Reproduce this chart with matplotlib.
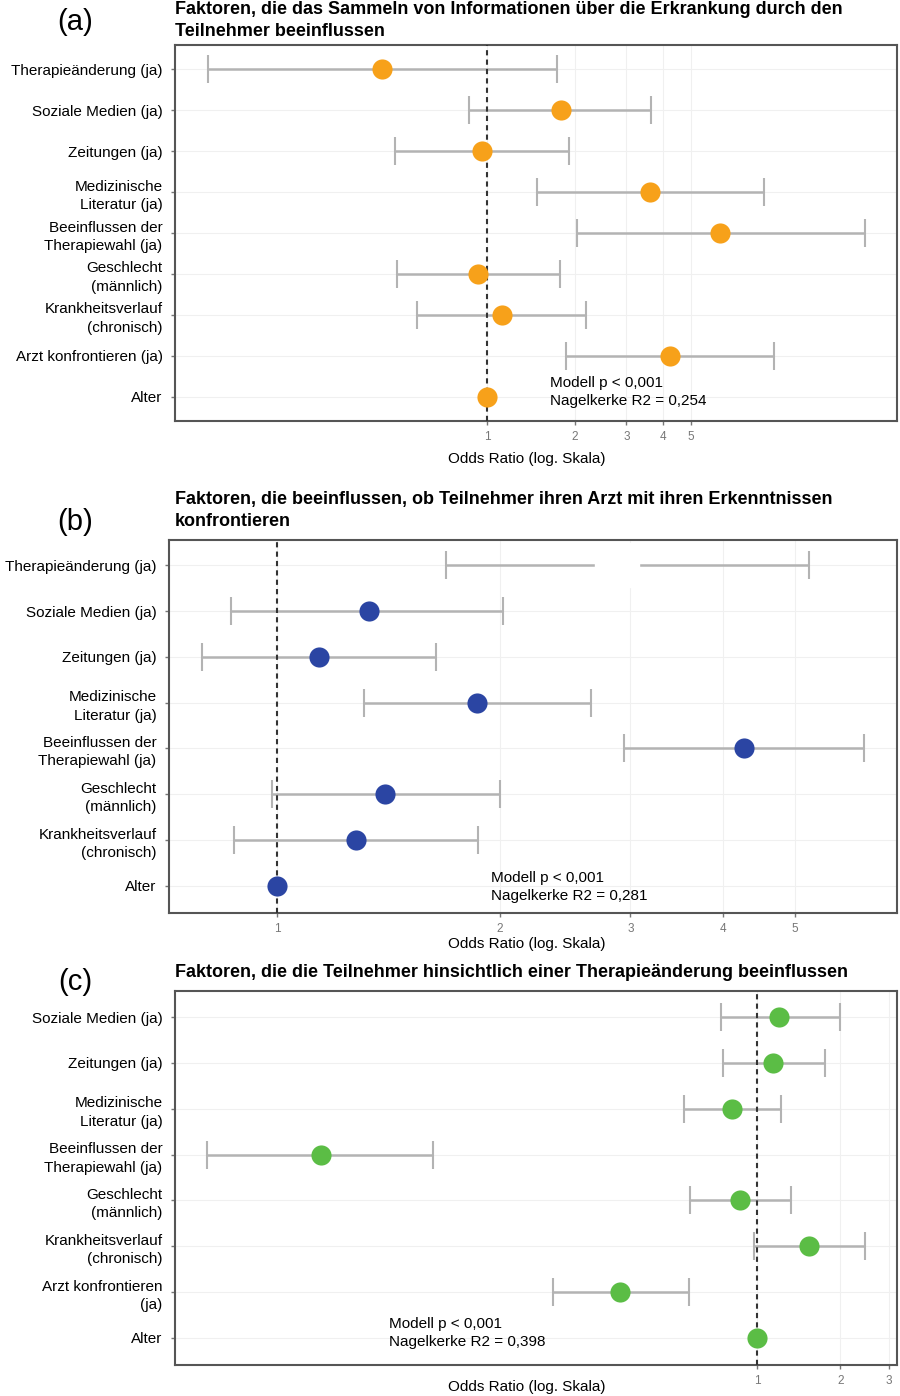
import matplotlib
matplotlib.use("Agg")
import matplotlib.pyplot as plt
import numpy as np

plt.rcParams['font.family'] = ['Liberation Sans', 'DejaVu Sans']

# Panel (a)
labels_a = ["Therapieänderung (ja)", "Soziale Medien (ja)", "Zeitungen (ja)",
            "Medizinische\nLiteratur (ja)", "Beeinflussen der\nTherapiewahl (ja)",
            "Geschlecht\n(männlich)", "Krankheitsverlauf\n(chronisch)",
            "Arzt konfrontieren (ja)", "Alter"]
or_a = [0.434, 1.79, 0.96, 3.61, 6.28, 0.93, 1.12, 4.24, 1.0]
lo_a = [0.110, 0.867, 0.484, 1.48, 2.03, 0.49, 0.575, 1.86, 0.995]
hi_a = [1.74, 3.64, 1.91, 8.89, 19.7, 1.78, 2.18, 9.6, 1.005]
ticks_a = [1, 2, 3, 4, 5]

# Panel (b)
labels_b = ["Therapieänderung (ja)", "Soziale Medien (ja)", "Zeitungen (ja)",
            "Medizinische\nLiteratur (ja)", "Beeinflussen der\nTherapiewahl (ja)",
            "Geschlecht\n(männlich)", "Krankheitsverlauf\n(chronisch)", "Alter"]
or_b = [2.88, 1.33, 1.14, 1.86, 4.27, 1.40, 1.28, 1.0]
lo_b = [1.69, 0.867, 0.792, 1.31, 2.94, 0.985, 0.875, 0.998]
hi_b = [5.22, 2.02, 1.64, 2.65, 6.2, 2.0, 1.87, 1.002]
ticks_b = [1, 2, 3, 4, 5]

# Panel (c)
labels_c = ["Soziale Medien (ja)", "Zeitungen (ja)", "Medizinische\nLiteratur (ja)",
            "Beeinflussen der\nTherapiewahl (ja)", "Geschlecht\n(männlich)",
            "Krankheitsverlauf\n(chronisch)", "Arzt konfrontieren\n(ja)", "Alter"]
or_c = [1.20, 1.14, 0.812, 0.0263, 0.868, 1.54, 0.319, 1.0]
lo_c = [0.741, 0.753, 0.544, 0.0102, 0.572, 0.975, 0.182, 0.995]
hi_c = [2.0, 1.76, 1.22, 0.067, 1.33, 2.46, 0.567, 1.005]
ticks_c = [1, 2, 3]

titles = ["Faktoren, die das Sammeln von Informationen über die Erkrankung durch den\nTeilnehmer beeinflussen",
          "Faktoren, die beeinflussen, ob Teilnehmer ihren Arzt mit ihren Erkenntnissen\nkonfrontieren",
          "Faktoren, die die Teilnehmer hinsichtlich einer Therapieänderung beeinflussen"]
stats = ["Modell p < 0,001\nNagelkerke R2 = 0,254",
         "Modell p < 0,001\nNagelkerke R2 = 0,281",
         "Modell p < 0,001\nNagelkerke R2 = 0,398"]

W, H = 900, 1396
fig = plt.figure(figsize=(W / 100, H / 100), dpi=100)


def px_axes(l, t, r, b):
    return fig.add_axes([l / W, 1 - b / H, (r - l) / W, (b - t) / H])


def forest(ax, labels, ors, los, his, color, ticks, xlim, ylim, hide=None):
    n = len(labels)
    y = np.arange(n)
    for i in range(n):
        if his[i] / los[i] > 1.02:
            ax.errorbar(ors[i], y[i], xerr=[[ors[i] - los[i]], [his[i] - ors[i]]],
                        fmt='none', ecolor='#b3b3b3', elinewidth=1.8, capsize=10,
                        capthick=1.5, zorder=2)
    ax.axvline(1, color='#333333', ls=(0, (2.5, 2)), lw=1.5, zorder=3)
    for i in range(n):
        if hide is not None and i == hide:
            ax.plot(ors[i], y[i], 's', color='white', ms=31, zorder=4)
        else:
            ax.plot(ors[i], y[i], 'o', color=color, ms=14.5, zorder=5, mec='none')
    ax.set_xscale('log')
    ax.set_xticks(ticks)
    ax.set_xticklabels([str(t) for t in ticks])
    ax.xaxis.set_minor_locator(matplotlib.ticker.NullLocator())
    ax.set_xlim(*xlim)
    ax.set_ylim(*ylim)
    ax.set_yticks(y)
    ax.set_yticklabels(labels, fontsize=11, linespacing=1.4)
    ax.tick_params(axis='x', labelsize=8.5, colors='#777777', length=3, width=1, pad=4)
    ax.tick_params(axis='y', colors='#777777', labelcolor='black', length=3, width=1, pad=6)
    ax.grid(True, color='#f0f0f0', lw=0.8, zorder=0)
    for s in ax.spines.values():
        s.set_color('#555555')
        s.set_linewidth(1.5)
    ax.set_xlabel("Odds Ratio (log. Skala)", fontsize=11)


ax_a = px_axes(175, 45, 897, 421)
forest(ax_a, labels_a, or_a, lo_a, hi_a, '#F7A11A', ticks_a, (0.085, 25.4), (8.59, -0.59))
ax_a.xaxis.set_label_coords((527 - 175) / 722, -0.083)

ax_b = px_axes(169, 540, 897, 913)
forest(ax_b, labels_b, or_b, lo_b, hi_b, '#2B45A3', ticks_b, (0.715, 6.87), (7.59, -0.55), hide=0)
ax_b.xaxis.set_label_coords((527 - 169) / 728, -0.064)

ax_c = px_axes(175, 991, 897, 1365)
forest(ax_c, labels_c, or_c, lo_c, hi_c, '#5BBD45', ticks_c, (0.00778, 3.21), (7.59, -0.57))
ax_c.xaxis.set_label_coords((527 - 175) / 722, -0.04)

fig.text(175 / W, 1 - 1 / H, titles[0], fontsize=13, fontweight='bold', va='top', ha='left',
         linespacing=1.4)
fig.text(175 / W, 1 - 491 / H, titles[1], fontsize=13, fontweight='bold', va='top', ha='left',
         linespacing=1.4)
fig.text(175 / W, 1 - 964 / H, titles[2], fontsize=13, fontweight='bold', va='top', ha='left',
         linespacing=1.4)

fig.text(75 / W, 1 - 22 / H, "(a)", fontsize=21, ha='center', va='center')
fig.text(75 / W, 1 - 522 / H, "(b)", fontsize=21, ha='center', va='center')
fig.text(75 / W, 1 - 982 / H, "(c)", fontsize=21, ha='center', va='center')

fig.text(550 / W, 1 - 392 / H, stats[0], fontsize=11, ha='left', va='center', linespacing=1.35)
fig.text(491 / W, 1 - 887 / H, stats[1], fontsize=11, ha='left', va='center', linespacing=1.35)
fig.text(389 / W, 1 - 1333 / H, stats[2], fontsize=11, ha='left', va='center', linespacing=1.35)

fig.savefig("out.png", dpi=100)
